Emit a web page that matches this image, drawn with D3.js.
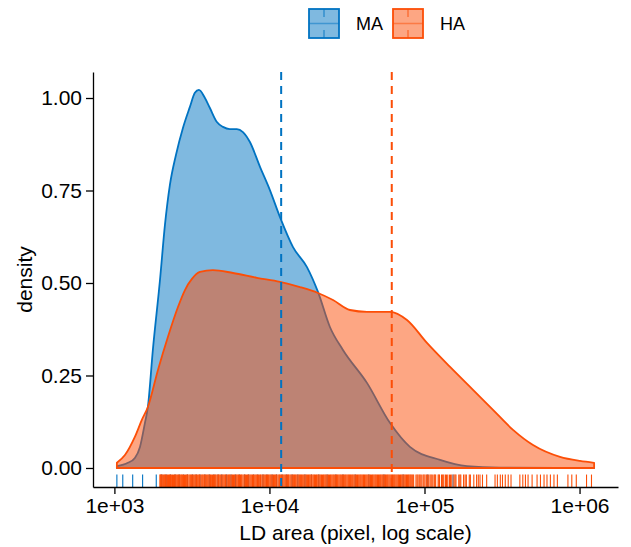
<!DOCTYPE html>
<html>
<head>
<meta charset="utf-8">
<script src="https://d3js.org/d3.v7.min.js"></script>
<style>
  body { margin: 0; background: #fff; }
  svg text { font-family: "Liberation Sans", Arial, Helvetica, sans-serif; fill: #000; }
</style>
</head>
<body>
<svg id="chart" width="631" height="547"></svg>
<script>
// groups and their colours
const groups = ["MA", "HA"];
const colors = ["#0073C2", "#FC4E07"];

// density curves (x = log10 of LD area)
const maLogArea = [3.016, 3.087, 3.132, 3.165, 3.197, 3.216, 3.248, 3.294, 3.326, 3.358, 3.397, 3.442, 3.487,
  3.519, 3.545, 3.584, 3.616, 3.661, 3.700, 3.745, 3.790, 3.829, 3.874, 3.939, 4.003, 4.068, 4.152, 4.242,
  4.313, 4.390, 4.474, 4.629, 4.777, 4.906, 5.100, 5.274, 5.487, 6.094];
const maDensity = [0.005, 0.014, 0.027, 0.057, 0.122, 0.165, 0.319, 0.508, 0.657, 0.765, 0.846, 0.919, 0.976,
  1.014, 1.022, 1.000, 0.973, 0.935, 0.922, 0.916, 0.916, 0.908, 0.881, 0.814, 0.751, 0.678, 0.597, 0.543,
  0.476, 0.381, 0.319, 0.230, 0.122, 0.057, 0.022, 0.005, 0.001, 0.000];

const haLogArea = [3.016, 3.068, 3.132, 3.177, 3.216, 3.281, 3.345, 3.410, 3.455, 3.500, 3.552, 3.635, 3.765,
  3.919, 4.068, 4.197, 4.313, 4.410, 4.519, 4.629, 4.777, 4.887, 5.016, 5.165, 5.313, 5.442, 5.571, 5.700,
  5.874, 6.003, 6.094];
const haDensity = [0.014, 0.035, 0.084, 0.130, 0.165, 0.265, 0.354, 0.435, 0.481, 0.511, 0.530, 0.535, 0.527,
  0.514, 0.503, 0.489, 0.473, 0.454, 0.427, 0.422, 0.422, 0.400, 0.338, 0.273, 0.211, 0.157, 0.103, 0.062,
  0.030, 0.019, 0.014];

// group means (dashed lines), LD area in pixels
const meanArea = [11900, 61500];

// rug marks (log10 of LD area)
const maRug = [3.016, 3.054, 3.118, 3.182, 3.270, 3.305, 3.334, 3.362, 3.391, 3.418, 3.446, 3.471, 3.503,
  3.527, 3.552, 3.584, 3.612, 3.641, 3.668, 3.692, 3.724, 3.752, 3.781, 3.806, 3.839, 3.866, 3.897, 3.925,
  3.958, 3.984, 4.017, 4.046, 4.081, 4.111, 4.146, 4.183, 4.229, 4.271, 4.318, 4.372, 4.428, 4.474, 4.553,
  4.641, 4.738, 4.862, 5.021, 5.184];
const haRug = [3.294, 3.301, 3.309, 3.322, 3.330, 3.343, 3.355, 3.362, 3.375, 3.388, 3.396, 3.408, 3.419,
  3.431, 3.440, 3.452, 3.466, 3.474, 3.487, 3.498, 3.509, 3.521, 3.530, 3.544, 3.553, 3.566, 3.577, 3.586,
  3.599, 3.611, 3.620, 3.633, 3.645, 3.654, 3.667, 3.676, 3.689, 3.700, 3.712, 3.721, 3.735, 3.744, 3.757,
  3.768, 3.779, 3.790, 3.801, 3.813, 3.822, 3.836, 3.845, 3.858, 3.867, 3.880, 3.891, 3.902, 3.914, 3.923,
  3.937, 3.946, 3.959, 3.970, 3.981, 3.993, 4.004, 4.015, 4.026, 4.038, 4.047, 4.061, 4.070, 4.083, 4.094,
  4.105, 4.117, 4.126, 4.139, 4.150, 4.161, 4.172, 4.184, 4.195, 4.206, 4.218, 4.229, 4.240, 4.252, 4.263,
  4.273, 4.286, 4.297, 4.308, 4.319, 4.331, 4.342, 4.353, 4.364, 4.376, 4.387, 4.398, 4.410, 4.421, 4.432,
  4.443, 4.455, 4.466, 4.477, 4.489, 4.500, 4.511, 4.522, 4.534, 4.545, 4.556, 4.568, 4.579, 4.590, 4.602,
  4.613, 4.624, 4.636, 4.647, 4.658, 4.669, 4.681, 4.692, 4.703, 4.715, 4.726, 4.737, 4.748, 4.760, 4.771,
  4.783, 4.794, 4.805, 4.816, 4.828, 4.839, 4.850, 4.862, 4.873, 4.884, 4.896, 4.907, 4.918, 4.930,
  3.296, 3.305, 3.316, 3.326, 3.337, 3.349, 3.359, 3.369, 3.381, 3.392, 3.402, 3.414, 3.425, 3.435, 3.446,
  3.459, 3.470, 3.481, 3.492, 3.503, 3.515, 3.526, 3.537, 3.548, 3.560, 3.571, 3.582, 3.593, 3.605, 3.616,
  3.627, 3.639, 3.650, 3.661, 3.672, 3.683, 3.695, 3.706, 3.717, 3.728, 3.740, 3.751, 3.762, 3.774, 3.785,
  3.796, 3.807, 3.818, 3.829, 3.841, 3.852, 3.863, 3.874, 3.886, 3.897, 3.908, 3.919, 3.930, 3.942, 3.953,
  3.964, 3.976, 3.987, 3.998, 4.009, 4.021, 4.032, 4.043, 4.055, 4.066, 4.077, 4.088, 4.100, 4.111, 4.122,
  4.133, 4.145, 4.156, 4.167, 4.178, 4.190, 4.201, 4.212, 4.224, 4.235, 4.246, 4.257, 4.269, 4.280, 4.291,
  4.303, 4.314, 4.325, 4.336, 4.348, 4.359, 4.370, 4.381, 4.393, 4.404, 4.415, 4.427, 4.438, 4.449, 4.460,
  4.472, 4.483, 4.494, 4.506, 4.517, 4.528, 4.539, 4.551, 4.562, 4.573, 4.585, 4.596, 4.607, 4.618, 4.630,
  4.641, 4.652, 4.664, 4.675, 4.686, 4.697, 4.709, 4.720, 4.731, 4.743, 4.754, 4.765, 4.777, 4.788, 4.799,
  4.810, 4.822, 4.833, 4.845, 4.856, 4.867, 4.879, 4.890, 4.901, 4.912, 4.924,
  4.945, 4.958, 4.966, 4.979, 4.990, 5.003, 5.012, 5.027, 5.036, 5.050, 5.061, 5.072, 5.088, 5.097, 5.110,
  5.124, 5.135, 5.150, 5.161, 5.176, 5.190, 5.203, 5.221, 5.234, 5.252, 5.270, 5.289, 5.318, 5.336, 5.358,
  5.374, 5.401, 5.455, 5.470, 5.489, 5.503, 5.521, 5.540, 5.558, 5.615, 5.634, 5.651, 5.668, 5.694, 5.726,
  5.748, 5.771, 5.790, 5.812, 5.835, 5.857, 5.925, 5.950, 5.979, 6.045, 6.077,
  4.952, 4.972, 4.996, 5.018, 5.043, 5.066, 5.093, 5.117, 5.142, 5.168, 5.197, 5.228, 5.262, 5.296, 5.347];

// axis ticks
const xTicks = [1e3, 1e4, 1e5, 1e6];
const xTickLabels = ["1e+03", "1e+04", "1e+05", "1e+06"];
const yTicks = [0, 0.25, 0.5, 0.75, 1];
const yTickLabels = ["0.00", "0.25", "0.50", "0.75", "1.00"];

// layout
const svg = d3.select("#chart");
const pLeft = 93, pRight = 618, pTop = 72, pBottom = 487;

const x = d3.scaleLog().domain([Math.pow(10, 2.862), Math.pow(10, 6.248)]).range([pLeft, pRight]);
const y = d3.scaleLinear().domain([-0.0514, 1.0703]).range([pBottom, pTop]);

const curves = [
  d3.zip(maLogArea, maDensity),
  d3.zip(haLogArea, haDensity)
];

const area = d3.area()
  .x(d => x(Math.pow(10, d[0])))
  .y0(y(0))
  .y1(d => y(d[1]))
  .curve(d3.curveMonotoneX);

// density areas with full outline
svg.append("g")
  .selectAll("path")
  .data(curves)
  .join("path")
  .attr("d", area)
  .attr("fill", (d, i) => colors[i])
  .attr("fill-opacity", 0.5)
  .attr("stroke", (d, i) => colors[i])
  .attr("stroke-width", 1.8)
  .attr("stroke-linejoin", "round");

// rug
const rugs = [maRug, haRug];
rugs.forEach((r, i) => {
  svg.append("g")
    .selectAll("line")
    .data(r)
    .join("line")
    .attr("x1", d => x(Math.pow(10, d)))
    .attr("x2", d => x(Math.pow(10, d)))
    .attr("y1", pBottom)
    .attr("y2", pBottom - 0.03 * (pBottom - pTop))
    .attr("stroke", colors[i])
    .attr("stroke-width", 1.1);
});

// mean lines
svg.append("g")
  .selectAll("line")
  .data(meanArea)
  .join("line")
  .attr("x1", d => x(d))
  .attr("x2", d => x(d))
  .attr("y1", pTop)
  .attr("y2", pBottom)
  .attr("stroke", (d, i) => colors[i])
  .attr("stroke-width", 2)
  .attr("stroke-dasharray", "8,6");

// axes
const xAxis = svg.append("g")
  .attr("transform", `translate(0,${pBottom})`)
  .call(d3.axisBottom(x).tickValues(xTicks).tickFormat((d, i) => xTickLabels[i])
    .tickSize(7).tickPadding(4).tickSizeOuter(0));
const yAxis = svg.append("g")
  .attr("transform", `translate(${pLeft},0)`)
  .call(d3.axisLeft(y).tickValues(yTicks).tickFormat((d, i) => yTickLabels[i])
    .tickSize(7).tickPadding(4).tickSizeOuter(0));

[xAxis, yAxis].forEach(a => {
  a.select(".domain").attr("stroke", "#000").attr("stroke-width", 1.3);
  a.selectAll(".tick line").attr("stroke", "#000").attr("stroke-width", 1.3);
  a.selectAll(".tick text").attr("font-size", 21).attr("fill", "#000")
    .style("font-family", "'Liberation Sans', Arial, sans-serif");
});

// axis titles
svg.append("text")
  .attr("x", (pLeft + pRight) / 2)
  .attr("y", 540)
  .attr("text-anchor", "middle")
  .attr("font-size", 21)
  .text("LD area (pixel, log scale)");

svg.append("text")
  .attr("transform", `translate(32,${(pTop + pBottom) / 2}) rotate(-90)`)
  .attr("text-anchor", "middle")
  .attr("font-size", 21)
  .text("density");

// legend
const legendX = [309, 393];
groups.forEach((g, i) => {
  const lg = svg.append("g").attr("transform", `translate(${legendX[i]},9)`);
  lg.append("rect")
    .attr("x", 0).attr("y", 0).attr("width", 30).attr("height", 29)
    .attr("fill", colors[i]).attr("fill-opacity", 0.5)
    .attr("stroke", colors[i]).attr("stroke-width", 1.8);
  lg.append("line")
    .attr("x1", 0).attr("x2", 30).attr("y1", 14.5).attr("y2", 14.5)
    .attr("stroke", colors[i]).attr("stroke-opacity", 0.5).attr("stroke-width", 1.5);
  lg.append("line")
    .attr("x1", 15).attr("x2", 15).attr("y1", 0).attr("y2", 29)
    .attr("stroke", colors[i]).attr("stroke-opacity", 0.6).attr("stroke-width", 1.5)
    .attr("stroke-dasharray", "8,13");
  svg.append("text")
    .attr("x", legendX[i] + 47)
    .attr("y", 30)
    .attr("font-size", 18)
    .text(g);
});
</script>
</body>
</html>
